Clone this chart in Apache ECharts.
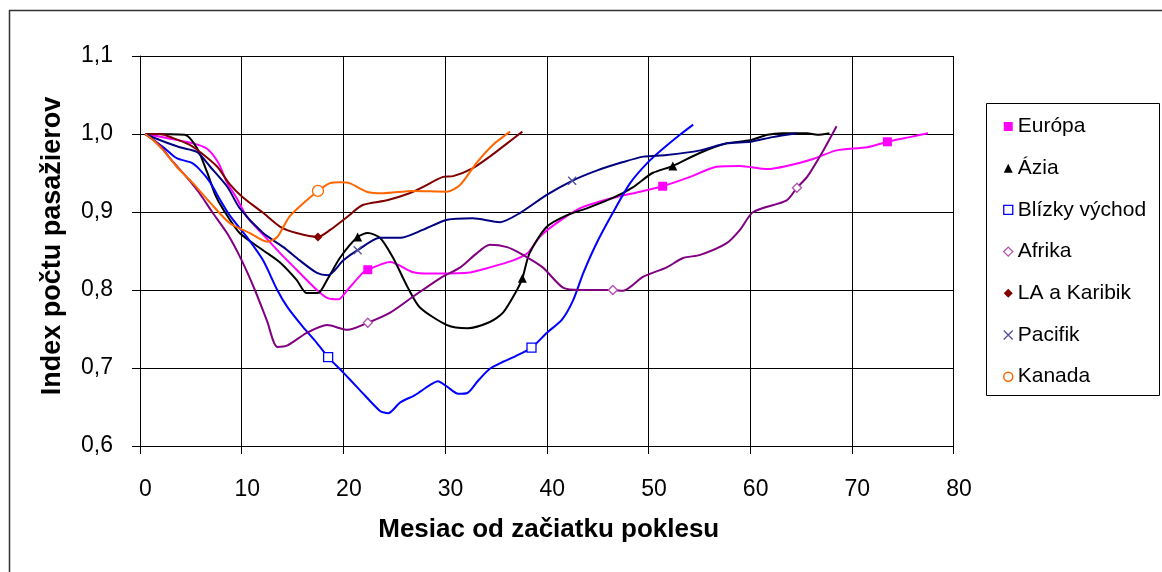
<!DOCTYPE html>
<html>
<head>
<meta charset="utf-8">
<script src="https://cdn.jsdelivr.net/npm/echarts@6/dist/echarts.min.js"></script>
<style>
  html, body { margin: 0; padding: 0; background: #fff; }
  #chart { width: 1162px; height: 572px; }
</style>
</head>
<body>
<div id="chart"></div>
<script>
// values: x = months since decline start, y = passenger index
const euX = [0.5, 5.2, 6.6, 7.7, 8.55, 9.5, 10.5, 12.1, 13.8, 15.4, 17.4, 18.4, 19.5, 20.4, 21.9, 22.4, 24.6, 26.8, 28.5, 32.2, 34.4, 36.7, 38.1, 39.3, 41.0, 43.3, 46.5, 49.2, 51.4, 54.1, 56.7, 59.0, 61.7, 63.6, 66.2, 68.5, 71.5, 73.5, 75.7, 77.5];
const euY = [1.0, 0.988, 0.981, 0.963, 0.938, 0.918, 0.894, 0.871, 0.847, 0.826, 0.800, 0.790, 0.788, 0.800, 0.822, 0.826, 0.836, 0.823, 0.821, 0.822, 0.829, 0.838, 0.847, 0.868, 0.886, 0.905, 0.918, 0.926, 0.933, 0.945, 0.958, 0.959, 0.955, 0.959, 0.968, 0.979, 0.983, 0.990, 0.996, 1.001];
const euMarks = [22.4, 51.4, 73.5];

const azX = [0.5, 4.4, 5.6, 6.6, 7.4, 8.2, 9.8, 12.1, 13.8, 15.4, 16.4, 17.5, 18.4, 19.7, 21.4, 22.4, 23.6, 24.9, 26.3, 27.5, 30.2, 32.2, 34.4, 35.7, 36.9, 37.6, 38.3, 40.0, 42.0, 44.0, 46.5, 48.5, 50.4, 52.4, 55.1, 57.7, 60.0, 61.7, 63.2, 65.6, 66.6, 67.8];
const azY = [1.0, 0.999, 0.982, 0.951, 0.922, 0.903, 0.873, 0.851, 0.835, 0.813, 0.796, 0.796, 0.813, 0.842, 0.868, 0.873, 0.867, 0.841, 0.804, 0.778, 0.755, 0.751, 0.759, 0.771, 0.796, 0.815, 0.847, 0.881, 0.896, 0.905, 0.918, 0.932, 0.950, 0.959, 0.976, 0.988, 0.992, 0.999, 1.001, 1.001, 0.999, 1.001];
const azMarks = [21.4, 37.6, 52.4];

const bvX = [0.5, 2.3, 3.6, 5.1, 5.9, 6.9, 7.9, 8.8, 10.5, 12.1, 13.5, 14.5, 16.0, 17.4, 18.5, 20.0, 21.6, 23.6, 24.4, 25.6, 27.0, 28.5, 29.3, 30.2, 31.3, 32.2, 33.2, 34.4, 35.7, 36.9, 38.5, 40.0, 41.5, 42.6, 43.6, 44.9, 46.5, 48.2, 49.9, 51.6, 53.1, 54.4];
const bvY = [1.0, 0.983, 0.969, 0.963, 0.954, 0.938, 0.915, 0.896, 0.868, 0.838, 0.800, 0.778, 0.753, 0.732, 0.714, 0.694, 0.672, 0.645, 0.642, 0.656, 0.665, 0.678, 0.683, 0.676, 0.667, 0.668, 0.683, 0.699, 0.708, 0.715, 0.726, 0.745, 0.762, 0.787, 0.822, 0.860, 0.899, 0.937, 0.963, 0.983, 0.999, 1.012];
const bvMarks = [18.5, 38.5];

const afX = [0.5, 2.0, 3.0, 4.5, 5.8, 7.1, 8.6, 10.0, 11.3, 12.5, 13.5, 14.5, 16.4, 18.4, 20.4, 22.4, 24.6, 26.8, 29.5, 31.5, 33.1, 34.4, 36.1, 37.4, 39.6, 41.6, 43.3, 46.5, 47.5, 49.5, 51.8, 53.4, 55.1, 57.7, 59.0, 60.3, 63.6, 64.6, 65.6, 67.2, 68.5];
const afY = [1.0, 0.985, 0.968, 0.946, 0.925, 0.900, 0.872, 0.838, 0.800, 0.760, 0.727, 0.729, 0.745, 0.755, 0.749, 0.758, 0.771, 0.791, 0.815, 0.829, 0.847, 0.858, 0.855, 0.847, 0.829, 0.803, 0.800, 0.800, 0.799, 0.817, 0.829, 0.841, 0.845, 0.860, 0.877, 0.900, 0.915, 0.931, 0.945, 0.979, 1.010];
const afMarks = [22.4, 46.5, 64.6];

const laX = [0.5, 2.0, 3.2, 4.9, 5.9, 7.6, 8.8, 10.1, 12.1, 13.8, 15.4, 17.5, 18.7, 20.4, 21.9, 24.3, 26.5, 27.8, 29.8, 30.8, 32.7, 34.4, 36.1, 37.6];
const laY = [1.0, 1.0, 0.995, 0.986, 0.977, 0.958, 0.936, 0.919, 0.899, 0.881, 0.873, 0.868, 0.877, 0.894, 0.909, 0.915, 0.924, 0.932, 0.945, 0.946, 0.956, 0.971, 0.988, 1.003];
const laMarks = [17.5];

const paX = [0.5, 2.0, 3.9, 5.6, 6.9, 8.6, 9.8, 12.1, 14.1, 15.7, 17.4, 18.5, 20.0, 21.4, 23.6, 25.6, 27.8, 30.2, 32.7, 35.4, 37.4, 40.0, 42.5, 44.9, 47.5, 49.5, 51.8, 55.1, 57.7, 60.0, 62.2, 64.6];
const paY = [1.0, 0.992, 0.983, 0.977, 0.958, 0.932, 0.905, 0.873, 0.855, 0.838, 0.822, 0.819, 0.838, 0.851, 0.867, 0.867, 0.877, 0.890, 0.892, 0.887, 0.899, 0.922, 0.940, 0.953, 0.964, 0.971, 0.973, 0.979, 0.988, 0.990, 0.996, 1.001];
const paMarks = [21.4, 42.5];

const kaX = [0.5, 1.3, 2.3, 3.6, 5.2, 6.9, 8.8, 10.8, 12.5, 13.5, 14.7, 16.4, 17.5, 18.7, 19.7, 20.6, 22.3, 23.9, 26.8, 30.2, 31.5, 33.1, 34.7, 36.4];
const kaY = [1.0, 0.992, 0.979, 0.958, 0.937, 0.912, 0.886, 0.873, 0.862, 0.868, 0.894, 0.915, 0.927, 0.937, 0.938, 0.937, 0.926, 0.924, 0.927, 0.926, 0.935, 0.963, 0.986, 1.003];
const kaMarks = [17.5];

const xTicks = [0, 10, 20, 30, 40, 50, 60, 70, 80];
const yTicks = [0.6, 0.7, 0.8, 0.9, 1.0, 1.1];

const FONT = 'Liberation Sans, Arial, sans-serif';
const crossPath = 'path://M0,0L10,10M10,0L0,10';

function points(xs, ys, marks) {
    return xs.map(function (x, i) {
        if (marks.indexOf(x) >= 0) {
            return { value: [x, ys[i]] };
        }
        return { value: [x, ys[i]], symbol: 'none' };
    });
}

function makeSeries(name, xs, ys, marks, color, symbol, size, fill, border) {
    return {
        name: name,
        type: 'line',
        smooth: 0.25,
        data: points(xs, ys, marks),
        symbol: symbol,
        symbolSize: size,
        showSymbol: true,
        showAllSymbol: true,
        lineStyle: { color: color, width: 2 },
        itemStyle: { color: fill, borderColor: border, borderWidth: border ? 1.3 : 0 },
        emphasis: { disabled: true },
        z: 3
    };
}

const chart = echarts.init(document.getElementById('chart'));

const series = [
    makeSeries('Európa', euX, euY, euMarks, '#FF00FF', 'rect', 9, '#FF00FF', null),
    makeSeries('Ázia', azX, azY, azMarks, '#000000', 'triangle', 9, '#000000', null),
    makeSeries('Blízky východ', bvX, bvY, bvMarks, '#0000FF', 'rect', 9, '#FFFFFF', '#0000FF'),
    makeSeries('Afrika', afX, afY, afMarks, '#800080', 'diamond', 9, '#FFFFFF', '#B050B0'),
    makeSeries('LA a Karibik', laX, laY, laMarks, '#800000', 'diamond', 9, '#800000', null),
    makeSeries('Pacifik', paX, paY, paMarks, '#000080', crossPath, 8, '#5050A0', '#5050A0'),
    makeSeries('Kanada', kaX, kaY, kaMarks, '#FF6600', 'circle', 11, '#FFFFFF', '#FF6600')
];

const legendData = [
    { name: 'Európa', icon: 'rect', itemStyle: { color: '#FF00FF', borderWidth: 0 } },
    { name: 'Ázia', icon: 'triangle', itemStyle: { color: '#000000', borderWidth: 0 } },
    { name: 'Blízky východ', icon: 'rect', itemStyle: { color: '#FFFFFF', borderColor: '#0000FF', borderWidth: 1.3 } },
    { name: 'Afrika', icon: 'diamond', itemStyle: { color: '#FFFFFF', borderColor: '#B050B0', borderWidth: 1.3 } },
    { name: 'LA a Karibik', icon: 'diamond', itemStyle: { color: '#800000', borderWidth: 0 } },
    { name: 'Pacifik', icon: crossPath, itemStyle: { color: '#5050A0', borderColor: '#5050A0', borderWidth: 1.3 } },
    { name: 'Kanada', icon: 'circle', itemStyle: { color: '#FFFFFF', borderColor: '#FF6600', borderWidth: 1.5 } }
];

const option = {
    backgroundColor: '#fff',
    animation: false,
    grid: { left: 140, top: 56, width: 813.5, height: 390, containLabel: false },
    xAxis: {
        type: 'value',
        min: xTicks[0],
        max: xTicks[xTicks.length - 1],
        interval: 10,
        name: 'Mesiac od začiatku poklesu',
        nameLocation: 'middle',
        nameGap: 71,
        nameTextStyle: { fontFamily: FONT, fontSize: 26, fontWeight: 'bold', color: '#000', padding: [0, 0, 0, 4] },
        axisLine: { lineStyle: { color: '#000', width: 1 } },
        axisTick: { show: true, length: 8, lineStyle: { color: '#000' } },
        axisLabel: { margin: 32, fontFamily: FONT, fontSize: 23, color: '#000', padding: [0, 0, 0, 11] },
        splitLine: { show: true, lineStyle: { color: '#000', width: 1 } }
    },
    yAxis: {
        type: 'value',
        min: yTicks[0],
        max: yTicks[yTicks.length - 1],
        interval: 0.1,
        name: 'Index počtu pasažierov',
        nameLocation: 'middle',
        nameGap: 74,
        nameTextStyle: { fontFamily: FONT, fontSize: 27, fontWeight: 'bold', color: '#000', padding: [0, 0, 0, 10] },
        axisLine: { show: true, lineStyle: { color: '#000', width: 1 } },
        axisTick: { show: true, length: 8, lineStyle: { color: '#000' } },
        axisLabel: {
            margin: 27, fontFamily: FONT, fontSize: 23, color: '#000',
            formatter: function (v) { return v.toFixed(1).replace('.', ','); }
        },
        splitLine: { show: true, lineStyle: { color: '#000', width: 1 } }
    },
    legend: {
        orient: 'vertical',
        left: 998,
        top: 111,
        itemWidth: 9,
        itemHeight: 9,
        itemGap: 20.7,
        selectedMode: false,
        textStyle: { fontFamily: FONT, fontSize: 21, color: '#000', lineHeight: 20 },
        data: legendData
    },
    graphic: [
        {
            type: 'rect',
            shape: { x: 9.5, y: 10.5, width: 1200, height: 600 },
            style: { fill: 'none', stroke: '#333', lineWidth: 1.5 },
            silent: true
        },
        {
            type: 'rect',
            shape: { x: 986.5, y: 103.5, width: 173, height: 292 },
            style: { fill: 'none', stroke: '#000', lineWidth: 1 },
            silent: true
        }
    ],
    series: series
};

chart.setOption(option);
</script>
</body>
</html>
